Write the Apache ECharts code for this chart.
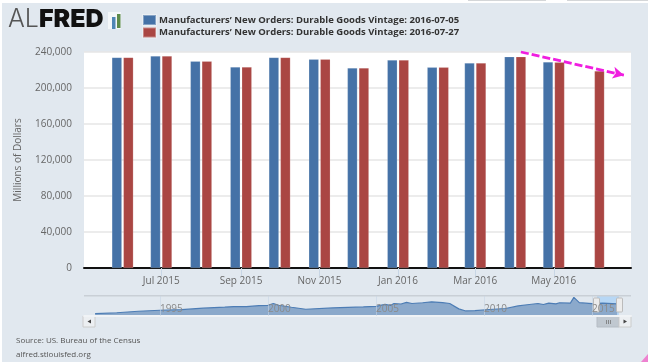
<!DOCTYPE html>
<html><head><meta charset="utf-8">
<style>html,body{margin:0;padding:0;background:#fff}#c{width:648px;height:364px}</style>
<script src="https://cdn.jsdelivr.net/npm/echarts@6/dist/echarts.min.js"></script>
</head><body><div id="c"></div>
<script>
const months = ['2015-06-01','2015-07-01','2015-08-01','2015-09-01','2015-10-01','2015-11-01','2015-12-01','2016-01-01','2016-02-01','2016-03-01','2016-04-01','2016-05-01','2016-06-01'];
const vintage0705 = [234000,235500,229700,223300,234000,232000,222300,231000,223000,227700,234800,229000,null];
const vintage0727 = [234000,235500,229700,223300,234000,232000,222300,231000,223000,227700,234800,228500,219000];
const name0705 = 'Manufacturers’ New Orders: Durable Goods Vintage: 2016-07-05';
const name0727 = 'Manufacturers’ New Orders: Durable Goods Vintage: 2016-07-27';
const tickDates = ['2015-07-01','2015-09-01','2015-11-01','2016-01-01','2016-03-01','2016-05-01'];
const tickLabels = ['Jul 2015','Sep 2015','Nov 2015','Jan 2016','Mar 2016','May 2016'];
const navDates = ['1992-01-01','1993-01-01','1994-01-01','1995-01-01','1996-01-01','1997-01-01','1998-01-01','1998-06-01','1999-01-01','1999-08-01','2000-01-01','2000-04-01','2000-07-01','2001-02-01','2001-10-01','2003-01-01','2004-06-01','2005-01-01','2005-06-01','2005-09-01','2005-11-01','2006-03-01','2006-06-01','2006-09-01','2007-03-01','2007-08-01','2008-02-01','2008-06-01','2008-11-01','2009-03-01','2009-08-01','2010-04-01','2011-01-01','2011-08-01','2012-01-01','2012-07-01','2012-10-01','2013-01-01','2013-05-01','2013-07-01','2014-01-01','2014-03-01','2014-06-01','2015-01-01','2015-07-01','2016-03-01'];
const navValues = [120000,129000,146000,157000,163000,180000,191000,198000,196000,208000,212000,232000,212000,190000,168000,183000,194000,200000,222000,210000,232000,226000,244000,232000,240000,250000,241000,232000,172000,149000,152000,165000,176000,205000,218000,232000,221000,236000,228000,240000,236000,300000,241000,230000,236000,228000];
const navYears = ['1995-01-01','2000-01-01','2005-01-01','2010-01-01','2015-01-01'];
const navYearLabels = ['1995','2000','2005','2010','2015'];
const trendFrom = ['2016-04-01',240000], trendTo = ['2016-06-20',214300];

const ts = s => +new Date(s + 'T00:00:00');
const font = '"Open Sans"';
const rect = (x,y,w,h,fill,stroke,r) => ({type:'rect',shape:{x,y,width:w,height:h,r:r||0},style:{fill,stroke:stroke||null,lineWidth:stroke?1:0},z:50});
const chart = echarts.init(document.getElementById('c'),null,{renderer:'canvas'});
chart.setOption({
  animation:false,
  backgroundColor:'#fff',
  textStyle:{fontFamily:font},
  legend:{orient:'vertical',left:137,top:9,itemWidth:13,itemHeight:10,itemGap:0.5,selectedMode:false,
    icon:'rect',textStyle:{fontFamily:font,fontSize:9.5,fontWeight:700,color:'#333',padding:[0,0,0,-2]},
    data:[name0705,name0727]},
  grid:[
    {left:84,right:17,top:52,height:216,show:true,backgroundColor:'#fff',borderWidth:0},
    {left:84,right:17,top:296,height:20,show:false}
  ],
  xAxis:[
    {type:'value',gridIndex:0,min:ts('2015-05-02'),max:ts('2016-06-30'),
      axisLine:{show:true,onZero:false,lineStyle:{color:'#111',width:2}},
      axisTick:{show:true,length:8,lineStyle:{color:'#c8d6e5'},customValues:tickDates.map(ts)},
      splitLine:{show:false},
      axisLabel:{customValues:tickDates.map(ts),margin:8,fontSize:10,fontFamily:font,color:'#666',hideOverlap:false,
        formatter:v=>tickLabels[tickDates.map(ts).indexOf(+v)]||''}},
    {type:'value',gridIndex:1,z:60,min:ts('1991-06-27'),max:ts('2016-10-22'),
      axisLine:{show:true,onZero:false,lineStyle:{color:'#f0f3f6',width:2}},
      axisTick:{show:true,inside:true,length:20,lineStyle:{color:'rgba(200,214,229,.6)'},customValues:navYears.map(ts)},
      splitLine:{show:false},
      axisLabel:{customValues:navYears.map(ts),inside:true,margin:2,align:'left',fontSize:10,fontFamily:font,color:'#8a8a8a',hideOverlap:false,
        formatter:v=>navYearLabels[navYears.map(ts).indexOf(+v)]||''}}
  ],
  yAxis:[
    {type:'value',gridIndex:0,min:0,max:240000,interval:40000,
      name:'Millions of Dollars',nameLocation:'middle',nameGap:61,nameRotate:90,
      nameTextStyle:{fontFamily:font,fontSize:10,color:'#666'},
      axisLine:{show:false},axisTick:{show:false},
      splitLine:{lineStyle:{color:'#e6e6e6',width:1.5}},
      axisLabel:{margin:12,fontSize:10,fontFamily:font,color:'#666',padding:[2,0,0,0],formatter:v=>v.toLocaleString('en-US')}},
    {type:'value',gridIndex:1,min:93000,max:315000,show:false,splitLine:{show:false}}
  ],
  series:[
    {name:name0705,type:'bar',xAxisIndex:0,yAxisIndex:0,barWidth:10,barGap:'15%',
      itemStyle:{color:'#4572a7',borderColor:'rgba(255,255,255,.35)',borderWidth:.5},
      data:months.map((m,i)=>[ts(m),vintage0705[i]])},
    {name:name0727,type:'bar',xAxisIndex:0,yAxisIndex:0,barWidth:10,
      itemStyle:{color:'#aa4643',borderColor:'rgba(255,255,255,.35)',borderWidth:.5},
      data:months.map((m,i)=>[ts(m),vintage0727[i]]),
      markLine:{silent:true,symbol:['none','arrow'],symbolSize:[9,11],z:20,label:{show:false},
        lineStyle:{color:'#f01ee0',type:[8,3],width:2.8,opacity:1},
        data:[[{coord:[ts(trendFrom[0]),trendFrom[1]]},{coord:[ts(trendTo[0]),trendTo[1]]}]]}},
    {type:'line',xAxisIndex:1,yAxisIndex:1,symbol:'none',
      lineStyle:{color:'#4d7db5',width:1.2},areaStyle:{color:'#8ba9cb',opacity:1},
      data:navDates.map((d,i)=>[ts(d),navValues[i]]),
      markArea:{silent:true,itemStyle:{color:'rgba(120,190,255,.4)'},label:{show:false},
        data:[[{xAxis:ts('2015-03-27')},{xAxis:ts('2016-04-01')}]]}}
  ],
  graphic:[
    {type:'group',silent:true,z:-1,children:[
      {...rect(2,3,646,359,'#e1e8ef'),z:-10},
      {...rect(468,0,78,1,'#d4d6d8'),z:-10},{...rect(567,0,81,1,'#d4d6d8'),z:-10}
    ]},
    {type:'text',x:8,y:7,z:50,silent:true,style:{text:'AL',font:'300 25px Inter',fill:'#555'}},
    {type:'text',x:39,y:7,z:50,silent:true,style:{text:'FRED',font:'900 25px Inter',fill:'#111'}},
    {...rect(108,12,13,17,'#f4f7f9'),silent:true},
    {...rect(112,17,3.5,12,'#4f86b5'),silent:true},
    {...rect(117,14,3.5,14,'#5c8a4a'),silent:true},
    {...rect(84,295,547,1.5,'#c9cfd6'),silent:true},
    {...rect(83,316,12,11,'#eceff2','#ccc'),silent:true},
    {type:'polygon',silent:true,z:51,shape:{points:[[91,319.5],[91,323.5],[87.5,321.5]]},style:{fill:'#444'}},
    {...rect(597,316,22,11,'#c0c8d0','#b5bcc4'),silent:true},
    {...rect(619,316,12,11,'#eceff2','#ccc'),silent:true},
    {type:'polygon',silent:true,z:51,shape:{points:[[623.5,319.5],[623.5,323.5],[627,321.5]]},style:{fill:'#444'}},
    {...rect(606,320,.8,4,'#777'),silent:true},{...rect(608,320,.8,4,'#777'),silent:true},{...rect(610,320,.8,4,'#777'),silent:true},
    {...rect(593.5,298,6,14,'#ececec','#bbb',1),silent:true},
    {...rect(616.5,298,6,14,'#ececec','#bbb',1),silent:true},
    {type:'text',x:16,y:337,z:50,silent:true,style:{text:'Source: US. Bureau of the Census',font:'8px "Open Sans"',fill:'#555'}},
    {type:'text',x:16,y:351,z:50,silent:true,style:{text:'alfred.stlouisfed.org',font:'8px "Open Sans"',fill:'#555'}},
    {type:'polygon',silent:true,z:51,shape:{points:[[648,354],[648,362],[641,362]]},style:{fill:'#ee82d0'}}
  ]
});
</script></body></html>
